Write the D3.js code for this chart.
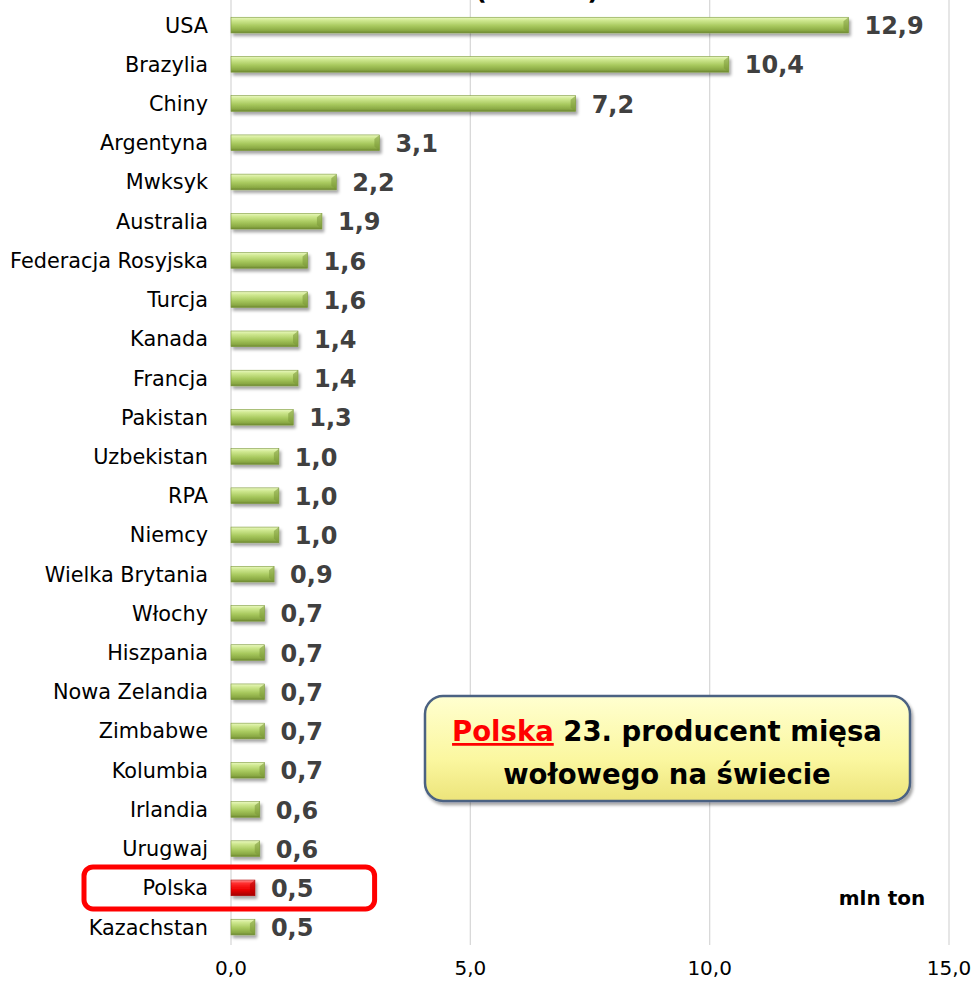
<!DOCTYPE html>
<html>
<head>
<meta charset="utf-8">
<script src="https://cdn.jsdelivr.net/npm/d3@7"></script>
<style>
  body { margin: 0; background: #fff; }
  svg { display: block; font-family: "DejaVu Sans", "Lato", sans-serif; }
</style>
</head>
<body>
<svg id="chart"></svg>
<script>
// beef production by country, mln ton
const countries = ["USA", "Brazylia", "Chiny", "Argentyna", "Mwksyk", "Australia",
  "Federacja Rosyjska", "Turcja", "Kanada", "Francja", "Pakistan", "Uzbekistan",
  "RPA", "Niemcy", "Wielka Brytania", "Włochy", "Hiszpania", "Nowa Zelandia",
  "Zimbabwe", "Kolumbia", "Irlandia", "Urugwaj", "Polska", "Kazachstan"];
const production = [12.9, 10.4, 7.2, 3.1, 2.2, 1.9, 1.6, 1.6, 1.4, 1.4, 1.3, 1.0,
  1.0, 1.0, 0.9, 0.7, 0.7, 0.7, 0.7, 0.7, 0.6, 0.6, 0.5, 0.5];
const xTicks = [0, 5, 10, 15];
const highlight = "Polska";
const unitLabel = "mln ton";
const titleText = "(2013 r.)";

const data = countries.map((c, i) => ({country: c, value: production[i]}));

const width = 977, height = 988;
const layout = {left: 231, right: 949, top: 5.5, bottom: 946.7};

const svg = d3.select("#chart").attr("width", width).attr("height", height);
const defs = svg.append("defs");

function barGradient(id, stops) {
  const g = defs.append("linearGradient").attr("id", id)
    .attr("x1", 0).attr("y1", 0).attr("x2", 0).attr("y2", 1);
  stops.forEach(s => g.append("stop").attr("offset", s[0]).attr("stop-color", s[1]));
}
barGradient("green", [[0, "#eaf8c0"], [0.2, "#cfe890"], [0.55, "#a8c95e"], [0.85, "#8aa944"], [1, "#6b8530"]]);
barGradient("red", [[0, "#ff9a9a"], [0.2, "#ff3030"], [0.6, "#ee0000"], [1, "#a00000"]]);

const boxGrad = defs.append("linearGradient").attr("id", "boxFill")
  .attr("x1", 0).attr("y1", 0).attr("x2", 0).attr("y2", 1);
boxGrad.append("stop").attr("offset", 0).attr("stop-color", "#ffffd0");
boxGrad.append("stop").attr("offset", 0.6).attr("stop-color", "#fbf7a0");
boxGrad.append("stop").attr("offset", 1).attr("stop-color", "#ece47a");

const shadow = defs.append("filter").attr("id", "shadow")
  .attr("x", "-10%").attr("y", "-50%").attr("width", "130%").attr("height", "250%");
shadow.append("feDropShadow").attr("dx", 2).attr("dy", 3).attr("stdDeviation", 1.8)
  .attr("flood-color", "#000").attr("flood-opacity", 0.35);

const x = d3.scaleLinear().domain([0, 15]).range([layout.left, layout.right]);
const y = d3.scaleBand().domain(countries)
  .range([layout.top, layout.bottom]).paddingInner(0.6).paddingOuter(0.3);

// title (mostly clipped above the visible area, as in the source)
svg.append("text")
  .attr("x", 537).attr("y", -1)
  .attr("text-anchor", "middle")
  .attr("font-size", 26).attr("font-weight", "bold")
  .text(titleText);

// gridlines
svg.append("g").selectAll("line")
  .data(xTicks)
  .join("line")
  .attr("x1", d => x(d)).attr("x2", d => x(d))
  .attr("y1", 0).attr("y2", 945)
  .attr("stroke", "#d9d9d9").attr("stroke-width", 1.3);

// x tick labels
svg.append("g").selectAll("text")
  .data(xTicks)
  .join("text")
  .attr("x", d => x(d)).attr("y", 975)
  .attr("text-anchor", "middle")
  .attr("font-size", 20)
  .text(d => d3.format(".1f")(d).replace(".", ","));

// bars
const bars = svg.append("g");
bars.selectAll("rect")
  .data(data)
  .join("rect")
  .attr("x", x(0))
  .attr("y", d => y(d.country))
  .attr("width", d => x(d.value) - x(0))
  .attr("height", y.bandwidth())
  .attr("fill", d => d.country === highlight ? "url(#red)" : "url(#green)")
  .attr("stroke", d => d.country === highlight ? "#b00000" : "#7d9a3c")
  .attr("stroke-width", 0.6)
  .attr("filter", "url(#shadow)");

// bevel at bar ends
bars.selectAll("path.bevel")
  .data(data)
  .join("path")
  .attr("class", "bevel")
  .attr("d", d => {
    const x1 = x(d.value), y0 = y(d.country), h = y.bandwidth();
    return `M${x1},${y0} L${x1 - 5},${y0 + 4} L${x1 - 5},${y0 + h - 4} L${x1},${y0 + h} Z`;
  })
  .attr("fill", d => d.country === highlight ? "#b00000" : "#7a9838")
  .attr("opacity", 0.55);

// category labels
svg.append("g").selectAll("text")
  .data(data)
  .join("text")
  .attr("x", 208)
  .attr("y", d => y(d.country) + y.bandwidth() / 2)
  .attr("dy", "0.36em")
  .attr("text-anchor", "end")
  .attr("font-size", 20.8)
  .attr("fill", "#000")
  .text(d => d.country);

// value labels
svg.append("g").selectAll("text")
  .data(data)
  .join("text")
  .attr("x", d => x(d.value) + 16)
  .attr("y", d => y(d.country) + y.bandwidth() / 2)
  .attr("dy", "0.38em")
  .attr("font-size", 24)
  .attr("font-weight", "bold")
  .attr("fill", "#404040")
  .text(d => d3.format(".1f")(d.value).replace(".", ","));

// red frame around the highlighted row
const hy = y(highlight) + y.bandwidth() / 2;
svg.append("rect")
  .attr("x", 84).attr("y", hy - 21)
  .attr("width", x(3) - 84).attr("height", 42)
  .attr("rx", 9)
  .attr("fill", "none")
  .attr("stroke", "#ff0000")
  .attr("stroke-width", 5);

// unit label
svg.append("text")
  .attr("x", 882).attr("y", 905)
  .attr("text-anchor", "middle")
  .attr("font-size", 20).attr("font-weight", "bold")
  .text(unitLabel);

// annotation box
const box = svg.append("g");
box.append("rect")
  .attr("x", 425).attr("y", 696).attr("width", 485).attr("height", 105)
  .attr("rx", 18)
  .attr("fill", "url(#boxFill)")
  .attr("stroke", "#4b6282").attr("stroke-width", 2.5)
  .attr("filter", "url(#shadow)");
const line1 = box.append("text")
  .attr("x", 667).attr("y", 741)
  .attr("text-anchor", "middle")
  .attr("font-size", 27.5).attr("font-weight", "bold");
line1.append("tspan").attr("fill", "#ff0000").attr("text-decoration", "underline").text(highlight);
line1.append("tspan").attr("fill", "#000").text(" 23. producent mięsa");
box.append("text")
  .attr("x", 667).attr("y", 784)
  .attr("text-anchor", "middle")
  .attr("font-size", 27.5).attr("font-weight", "bold")
  .text("wołowego na świecie");
</script>
</body>
</html>
